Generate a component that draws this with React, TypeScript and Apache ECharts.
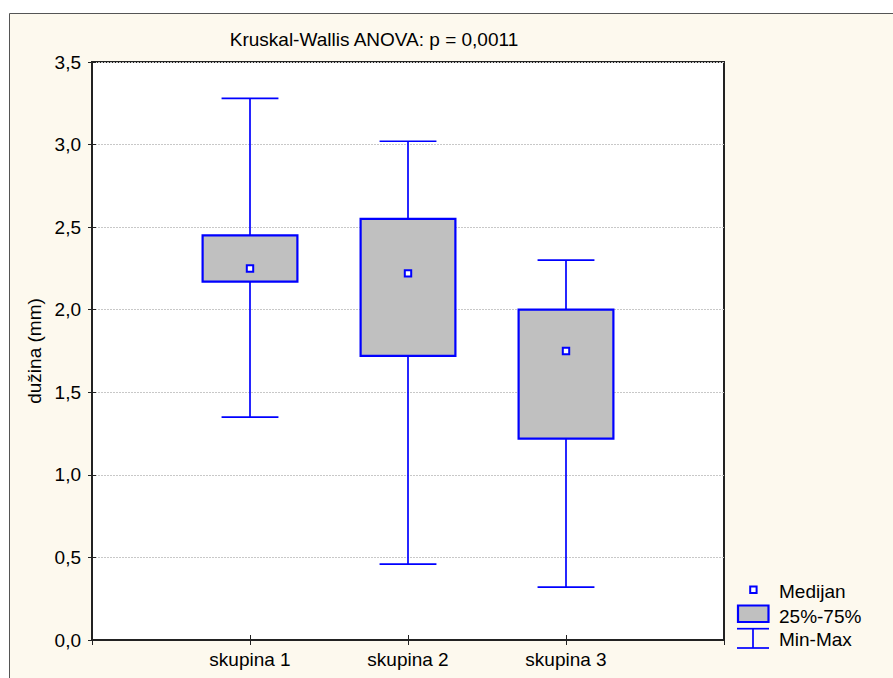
import React, { useEffect, useRef } from "react";
import * as echarts from "echarts";

const categories = ["skupina 1", "skupina 2", "skupina 3"];
const minValues = [1.35, 0.46, 0.32];
const q1Values = [2.17, 1.72, 1.22];
const medianValues = [2.25, 2.22, 1.75];
const q3Values = [2.45, 2.55, 2.0];
const maxValues = [3.28, 3.02, 2.3];
const legendLabels = ["Medijan", "25%-75%", "Min-Max"];
const titleText = "Kruskal-Wallis ANOVA: p = 0,0011";
const yAxisName = "dužina (mm)";

const BLUE = "#0000FF";
const FONT = "'Liberation Sans', Arial, sans-serif";
const FS = 19;

export default function App() {
  const ref = useRef<HTMLDivElement>(null);
  useEffect(() => {
    if (!ref.current) return;
    const chart = echarts.init(ref.current, null, { renderer: "svg" });
    const data = categories.map((_, i) => [
      i + 1,
      minValues[i],
      q1Values[i],
      medianValues[i],
      q3Values[i],
      maxValues[i],
    ]);
    const boxHalf = 0.3;
    const capHalf = 0.18;
    const option: any = {
      animation: false,
      backgroundColor: "#ffffff",
      textStyle: { fontFamily: FONT },
      grid: {
        left: 92,
        right: 169,
        top: 62,
        bottom: 38,
        show: true,
        backgroundColor: "#ffffff",
        borderColor: "#222222",
        borderWidth: 2,
      },
      xAxis: [
        {
          type: "value",
          min: 0,
          max: 4,
          interval: 1,
          position: "bottom",
          axisLine: { show: true, lineStyle: { color: "#222", width: 2 } },
          axisTick: { show: true, inside: true, length: 5, lineStyle: { color: "#222" } },
          splitLine: { show: false },
          axisLabel: {
            color: "#000",
            fontSize: FS,
            fontFamily: FONT,
            margin: 10,
            formatter: (v: number) => categories[v - 1] ?? "",
          },
        },
        {
          type: "value",
          min: 0,
          max: 4,
          interval: 1,
          position: "top",
          axisLine: { show: true, lineStyle: { color: "#222", width: 2 } },
          axisTick: { show: true, inside: true, length: 5, lineStyle: { color: "#222" } },
          splitLine: { show: false },
          axisLabel: { show: false },
        },
      ],
      yAxis: [
        {
          type: "value",
          min: 0,
          max: 3.5,
          interval: 0.5,
          name: yAxisName,
          nameLocation: "middle",
          nameGap: 48,
          nameTextStyle: { color: "#000", fontSize: FS, fontFamily: FONT },
          axisLine: { show: true, lineStyle: { color: "#222", width: 2 } },
          axisTick: { show: true, inside: true, length: 4, lineStyle: { color: "#222" } },
          splitLine: {
            show: true,
            lineStyle: { color: "#c8c8c8", type: [2, 1], width: 1 },
          },
          axisLabel: {
            color: "#000",
            fontSize: FS,
            fontFamily: FONT,
            margin: 11,
            formatter: (v: number) => v.toFixed(1).replace(".", ","),
          },
        },
        {
          type: "value",
          min: 0,
          max: 3.5,
          interval: 0.5,
          position: "right",
          axisLine: { show: true, lineStyle: { color: "#222", width: 2 } },
          axisTick: { show: true, inside: true, length: 4, lineStyle: { color: "#222" } },
          splitLine: { show: false },
          axisLabel: { show: false },
        },
      ],
      series: [
        {
          type: "custom",
          xAxisIndex: 0,
          yAxisIndex: 0,
          encode: { x: 0, y: [1, 2, 3, 4, 5] },
          data,
          renderItem: (params: any, api: any) => {
            const x = api.value(0);
            const mn = api.value(1);
            const q1 = api.value(2);
            const md = api.value(3);
            const q3 = api.value(4);
            const mx = api.value(5);
            const pMin = api.coord([x, mn]);
            const pMax = api.coord([x, mx]);
            const pQ1 = api.coord([x, q1]);
            const pQ3 = api.coord([x, q3]);
            const pMd = api.coord([x, md]);
            const bl = api.coord([x - boxHalf, q3]);
            const br = api.coord([x + boxHalf, q1]);
            const cl = api.coord([x - capHalf, mx])[0];
            const cr = api.coord([x + capHalf, mx])[0];
            const lineStyle = { stroke: BLUE, lineWidth: 1.7 };
            return {
              type: "group",
              children: [
                { type: "line", shape: { x1: pMax[0], y1: pMax[1], x2: pQ3[0], y2: pQ3[1] }, style: lineStyle },
                { type: "line", shape: { x1: pMin[0], y1: pMin[1], x2: pQ1[0], y2: pQ1[1] }, style: lineStyle },
                { type: "line", shape: { x1: cl, y1: pMax[1], x2: cr, y2: pMax[1] }, style: lineStyle },
                { type: "line", shape: { x1: cl, y1: pMin[1], x2: cr, y2: pMin[1] }, style: lineStyle },
                {
                  type: "rect",
                  shape: { x: bl[0], y: bl[1], width: br[0] - bl[0], height: br[1] - bl[1] },
                  style: { fill: "#C0C0C0", stroke: BLUE, lineWidth: 2.2 },
                },
                {
                  type: "rect",
                  shape: { x: pMd[0] - 3.2, y: pMd[1] - 3.2, width: 6.4, height: 6.4 },
                  style: { fill: "#ffffff", stroke: BLUE, lineWidth: 2 },
                },
              ],
            };
          },
        },
      ],
      graphic: {
        elements: [
          {
            type: "rect",
            z: -10,
            silent: true,
            shape: { x: 9.5, y: 13.5, width: 1000, height: 1000 },
            style: { fill: "#FDF9EE", stroke: "#555555", lineWidth: 1 },
          },
          {
            type: "text",
            z: 10,
            x: 374,
            y: 39,
            style: {
              text: titleText,
              fill: "#000",
              font: `${FS}px ${FONT}`,
              textAlign: "center",
              textVerticalAlign: "middle",
            },
          },
          {
            type: "rect",
            z: 10,
            shape: { x: 750.2, y: 586.5, width: 6.4, height: 6.4 },
            style: { fill: "#ffffff", stroke: BLUE, lineWidth: 2 },
          },
          {
            type: "rect",
            z: 10,
            shape: { x: 738, y: 605.5, width: 30.5, height: 16.5 },
            style: { fill: "#C0C0C0", stroke: BLUE, lineWidth: 2.2 },
          },
          {
            type: "line",
            z: 10,
            shape: { x1: 737, y1: 628.7, x2: 769, y2: 628.7 },
            style: { stroke: BLUE, lineWidth: 1.7 },
          },
          {
            type: "line",
            z: 10,
            shape: { x1: 737, y1: 648, x2: 769, y2: 648 },
            style: { stroke: BLUE, lineWidth: 1.7 },
          },
          {
            type: "line",
            z: 10,
            shape: { x1: 753, y1: 628.7, x2: 753, y2: 648 },
            style: { stroke: BLUE, lineWidth: 1.7 },
          },
          ...legendLabels.map((t, i) => ({
            type: "text",
            z: 10,
            x: 779,
            y: [591.7, 616, 639][i],
            style: {
              text: t,
              fill: "#000",
              font: `${FS}px ${FONT}`,
              textAlign: "left",
              textVerticalAlign: "middle",
            },
          })),
        ],
      },
    };
    chart.setOption(option);
    return () => chart.dispose();
  }, []);
  return (
    <div
      ref={ref}
      style={{ position: "fixed", left: 0, top: 0, width: 893, height: 678 }}
    />
  );
}
